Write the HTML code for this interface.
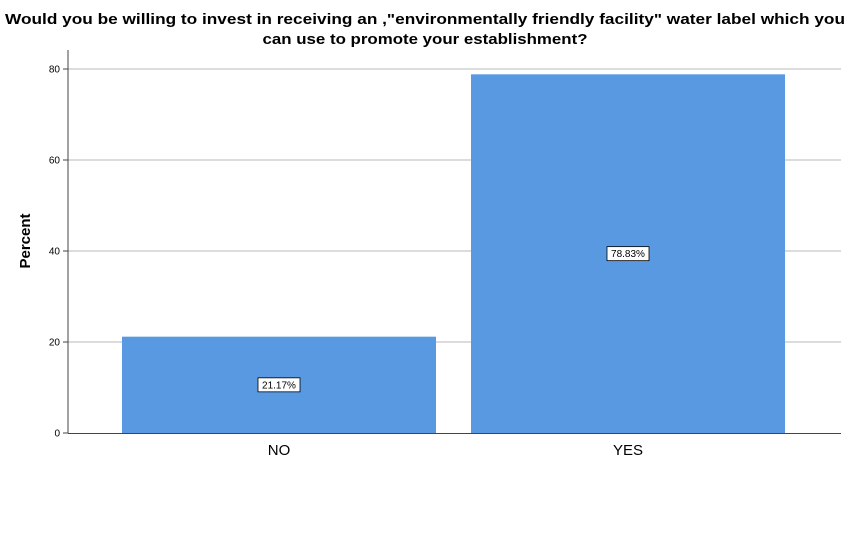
<!DOCTYPE html>
<html><head><meta charset="utf-8"><style>
html,body{margin:0;padding:0;background:#fff;}
svg{display:block;font-family:"Liberation Sans",sans-serif;}
</style></head><body>
<svg id="chart" width="850" height="546" viewBox="0 0 850 546">
<text x="425" y="24" text-anchor="middle" font-size="15" font-weight="bold" textLength="840" lengthAdjust="spacingAndGlyphs">Would you be willing to invest in receiving an ,"environmentally friendly facility" water label which you</text>
<text x="425" y="44" text-anchor="middle" font-size="15" font-weight="bold" textLength="325" lengthAdjust="spacingAndGlyphs">can use to promote your establishment?</text>
<text transform="translate(30,241) rotate(-90)" text-anchor="middle" font-size="15" font-weight="bold">Percent</text>
<g id="grid"></g>
<g id="bars"></g>
<line x1="68" y1="50" x2="68" y2="433" stroke="#444" stroke-width="1"/>
<line x1="68" y1="433.5" x2="841" y2="433.5" stroke="#444" stroke-width="1"/>
</svg>
<script>
const categories = ["NO", "YES"];
const values = [21.17, 78.83];
const valueLabels = ["21.17%", "78.83%"];
const yTicks = [0, 20, 40, 60, 80];
const yTickLabels = ["0", "20", "40", "60", "80"];

const NS = "http://www.w3.org/2000/svg";
const y0 = 433, pxPerUnit = 4.55;
function yScale(v){ return y0 - v * pxPerUnit; }
function xCenter(i){ return 279 + i * 349; }
const barW = 314;

const grid = document.getElementById("grid");
yTicks.forEach((t, i) => {
  const yy = yScale(t);
  if (t !== 0) {
    const l = document.createElementNS(NS, "line");
    l.setAttribute("x1", 68); l.setAttribute("x2", 841);
    l.setAttribute("y1", yy); l.setAttribute("y2", yy);
    l.setAttribute("stroke", "#d0d0d0"); l.setAttribute("stroke-width", "1.5");
    
    
    grid.appendChild(l);
  }
  const tk = document.createElementNS(NS, "line");
  tk.setAttribute("x1", 63); tk.setAttribute("x2", 68);
  tk.setAttribute("y1", yy); tk.setAttribute("y2", yy);
  tk.setAttribute("stroke", "#444");
  
  
  grid.appendChild(tk);
  const tx = document.createElementNS(NS, "text");
  tx.setAttribute("x", 60); tx.setAttribute("y", yy + 3.5);
  tx.setAttribute("text-anchor", "end"); tx.setAttribute("font-size", "10");
  tx.textContent = yTickLabels[i];
  
  
  grid.appendChild(tx);
});

const bars = document.getElementById("bars");
categories.forEach((c, i) => {
  const cx = xCenter(i), top = yScale(values[i]);
  const r = document.createElementNS(NS, "rect");
  r.setAttribute("x", cx - barW / 2); r.setAttribute("y", top);
  r.setAttribute("width", barW); r.setAttribute("height", y0 - top);
  r.setAttribute("fill", "#5899e2");
  
  
  bars.appendChild(r);
  const my = (top + y0) / 2;
  const w = 42, h = 14;
  const box = document.createElementNS(NS, "rect");
  box.setAttribute("x", cx - w / 2); box.setAttribute("y", my - h / 2);
  box.setAttribute("width", w); box.setAttribute("height", h);
  box.setAttribute("fill", "#fff"); box.setAttribute("stroke", "#000"); box.setAttribute("stroke-width", "0.8");
  
  
  bars.appendChild(box);
  const lt = document.createElementNS(NS, "text");
  lt.setAttribute("x", cx); lt.setAttribute("y", my + 3.5);
  lt.setAttribute("text-anchor", "middle"); lt.setAttribute("font-size", "10");
  lt.textContent = valueLabels[i];
  
  
  bars.appendChild(lt);
  const ct = document.createElementNS(NS, "text");
  ct.setAttribute("x", cx); ct.setAttribute("y", 455);
  ct.setAttribute("text-anchor", "middle"); ct.setAttribute("font-size", "15");
  ct.textContent = c;
  
  
  bars.appendChild(ct);
});
</script>
</body></html>
